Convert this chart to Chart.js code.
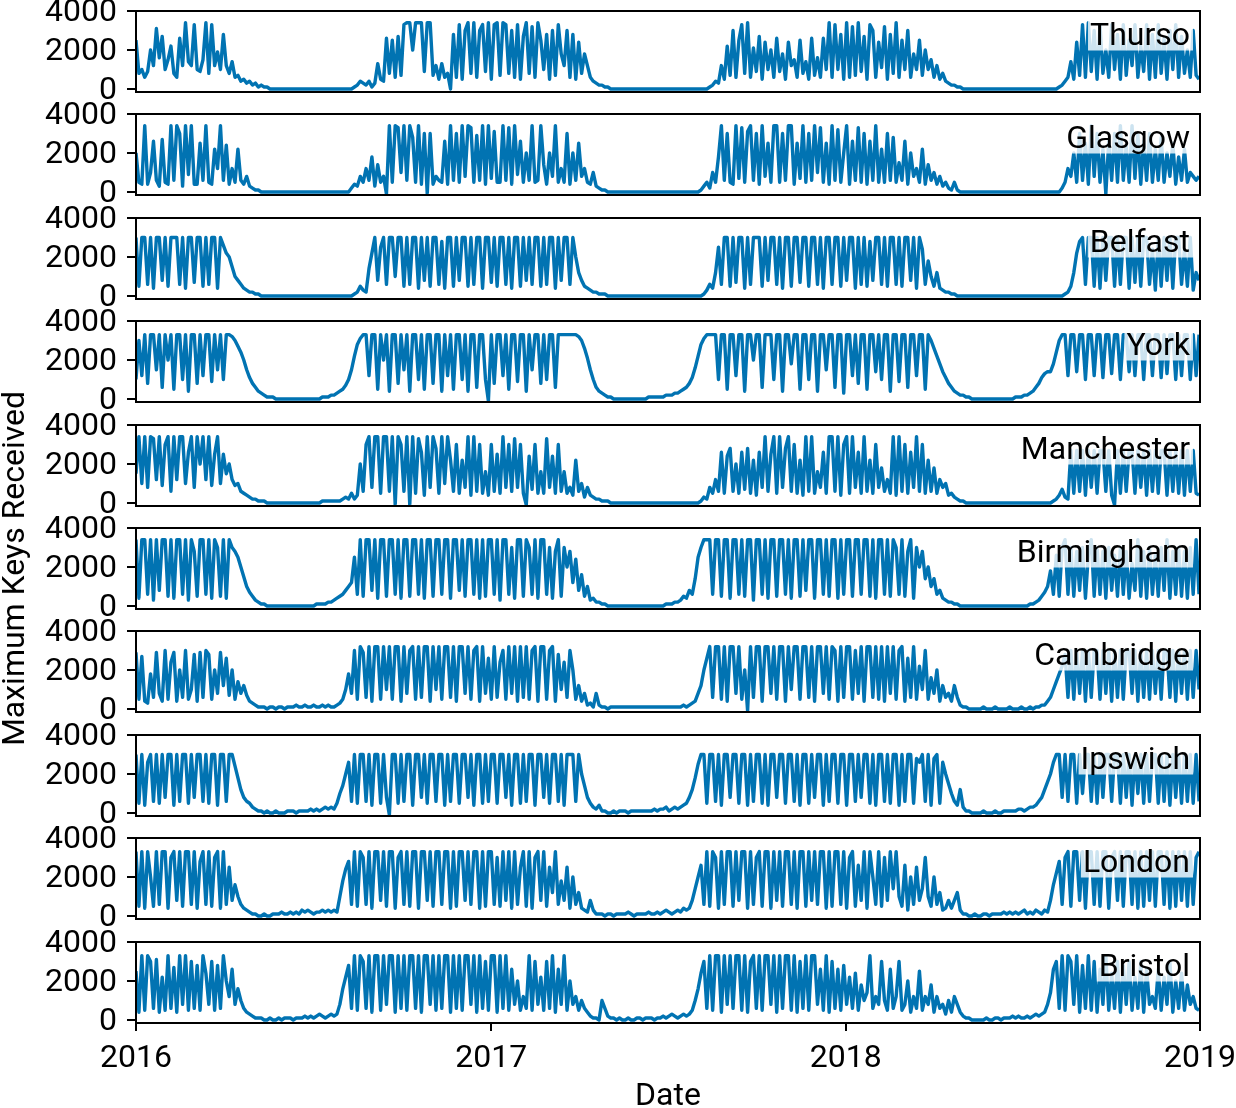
<!DOCTYPE html>
<html>
<head>
<meta charset="utf-8">
<title>Maximum keys received</title>
<script src="https://cdn.jsdelivr.net/npm/chart.js@4.4.0/dist/chart.umd.min.js"></script>
<style>
  html, body { margin: 0; padding: 0; background: #fff; }
  #figure { position: relative; width: 1236px; height: 1108px; overflow: hidden; }
  #figure canvas { position: absolute; left: 0; }
</style>
</head>
<body>
<div id="figure"></div>
<script>
// Maximum keys received, one reading every 3 days from 1 Jan 2016,
// values in hundreds of keys.
// Each row of ten is roughly one month.
const sampleStepDays = 3;
const keysPerUnit = 100;

const thurso = [
  25, 8, 10, 6, 9, 20, 12, 31, 16, 27,
  10, 15, 22, 8, 6, 26, 12, 34, 14, 12,
  33, 10, 9, 15, 34, 8, 33, 12, 19, 10,
  28, 12, 8, 14, 6, 7, 4, 5, 3, 4,
  2, 3, 1, 2, 1, 1, 0, 0, 0, 0,
  0, 0, 0, 0, 0, 0, 0, 0, 0, 0,
  0, 0, 0, 0, 0, 0, 0, 0, 0, 0,
  0, 0, 0, 0, 0, 1, 2, 4, 3, 2,
  4, 1, 3, 13, 5, 4, 26, 8, 25, 6,
  27, 7, 33, 34, 34, 20, 34, 34, 34, 9,
  34, 34, 7, 12, 5, 13, 6, 8, 0, 28,
  6, 33, 5, 30, 34, 8, 34, 6, 30, 33,
  9, 34, 5, 33, 34, 7, 34, 33, 8, 30,
  6, 33, 5, 27, 34, 8, 32, 6, 34, 25,
  10, 28, 5, 30, 7, 33, 18, 12, 30, 6,
  28, 5, 24, 8, 18, 12, 6, 4, 3, 2,
  2, 1, 1, 0, 0, 0, 0, 0, 0, 0,
  0, 0, 0, 0, 0, 0, 0, 0, 0, 0,
  0, 0, 0, 0, 0, 0, 0, 0, 0, 0,
  0, 0, 0, 0, 0, 0, 0, 1, 2, 4,
  3, 12, 5, 22, 7, 30, 6, 25, 33, 8,
  34, 6, 21, 9, 27, 5, 24, 10, 20, 6,
  26, 9, 18, 5, 24, 12, 15, 6, 25, 8,
  14, 5, 26, 7, 16, 6, 26, 10, 34, 6,
  33, 10, 28, 5, 34, 6, 32, 7, 34, 9,
  27, 5, 33, 30, 6, 24, 11, 32, 5, 28,
  8, 34, 6, 25, 10, 30, 6, 18, 10, 25,
  7, 20, 10, 15, 6, 12, 5, 8, 4, 3,
  2, 2, 1, 1, 0, 0, 0, 0, 0, 0,
  0, 0, 0, 0, 0, 0, 0, 0, 0, 0,
  0, 0, 0, 0, 0, 0, 0, 0, 0, 0,
  0, 0, 0, 0, 0, 0, 0, 1, 2, 4,
  6, 14, 5, 24, 7, 33, 6, 34, 9, 30,
  5, 33, 8, 20, 6, 33, 10, 28, 5, 33,
  7, 25, 12, 33, 6, 22, 9, 33, 5, 28,
  6, 33, 8, 26, 5, 30, 10, 33, 6, 27,
  8, 20, 6, 30, 7, 5
];

const glasgow = [
  20, 5, 4, 34, 4, 10, 26, 6, 3, 27,
  5, 4, 34, 6, 34, 30, 3, 34, 9, 34,
  4, 4, 25, 6, 34, 5, 4, 22, 12, 34,
  6, 24, 4, 12, 5, 22, 6, 4, 8, 3,
  2, 1, 1, 0, 0, 0, 0, 0, 0, 0,
  0, 0, 0, 0, 0, 0, 0, 0, 0, 0,
  0, 0, 0, 0, 0, 0, 0, 0, 0, 0,
  0, 0, 0, 0, 2, 4, 3, 8, 5, 12,
  6, 18, 3, 14, 5, 8, -1, 34, 5, 34,
  33, 10, 34, 6, 34, 28, 5, 34, 4, 30,
  -1, 30, 4, 8, 6, 5, 26, 4, 34, 6,
  30, 5, 34, 8, 34, 33, 5, 29, 6, 34,
  4, 34, 7, 31, 5, 5, 34, 6, 33, 4,
  34, 9, 26, 5, 20, 6, 34, 5, 6, 34,
  14, 4, 20, 8, 34, 5, 12, 5, 30, 4,
  20, 6, 25, 8, 12, 5, 4, 10, 3, 2,
  1, 1, 0, 0, 0, 0, 0, 0, 0, 0,
  0, 0, 0, 0, 0, 0, 0, 0, 0, 0,
  0, 0, 0, 0, 0, 0, 0, 0, 0, 0,
  0, 0, 0, 0, 1, 3, 5, 2, 10, 5,
  18, 34, 6, 30, 5, 4, 34, 7, 33, 5,
  31, 34, 6, 30, 4, 34, 8, 25, 5, 34,
  34, 5, 30, 6, 34, 34, 4, 25, 7, 34,
  5, 30, 6, 34, 10, 33, 5, 25, 4, 34,
  6, 32, 5, 20, 34, 4, 26, 6, 33, 5,
  30, 4, 26, 6, 34, 5, 22, 5, 30, 6,
  28, 5, 15, 6, 26, 4, 20, 8, 12, 5,
  22, 4, 14, 6, 10, 4, 8, 3, 5, 2,
  1, 5, 1, 0, 0, 0, 0, 0, 0, 0,
  0, 0, 0, 0, 0, 0, 0, 0, 0, 0,
  0, 0, 0, 0, 0, 0, 0, 0, 0, 0,
  0, 0, 0, 0, 0, 0, 0, 0, 2, 5,
  12, 8, 20, 5, 30, 6, 25, 4, 34, 8,
  30, 5, 22, -1, 26, 6, 30, 5, 34, 6,
  24, 5, 34, 7, 30, 4, 26, 6, 30, 5,
  22, 6, 28, 5, 20, 8, 25, 4, 18, 6,
  22, 5, 10, 8, 6, 8
];

const belfast = [
  30, 5, 30, 30, 6, 30, 4, 30, 30, 8,
  30, 5, 30, 30, 30, 6, 30, 4, 30, 30,
  7, 30, 30, 5, 30, 6, 30, 30, 4, 30,
  26, 22, 20, 15, 10, 8, 6, 4, 3, 2,
  2, 1, 1, 0, 0, 0, 0, 0, 0, 0,
  0, 0, 0, 0, 0, 0, 0, 0, 0, 0,
  0, 0, 0, 0, 0, 0, 0, 0, 0, 0,
  0, 0, 0, 0, 0, 1, 2, 5, 3, 2,
  14, 22, 30, 8, 25, 30, 6, 30, 30, 10,
  30, 30, 5, 30, 6, 30, 30, 4, 30, 8,
  30, 5, 30, 30, 6, 28, 4, 30, 30, 5,
  30, 8, 30, 30, 5, 30, 6, 30, 30, 4,
  30, 30, 7, 30, 5, 30, 30, 6, 30, 4,
  30, 30, 5, 30, 8, 30, 6, 30, 30, 5,
  30, 6, 30, 30, 4, 30, 8, 30, 30, 6,
  30, 20, 12, 8, 5, 4, 3, 2, 2, 1,
  1, 1, 0, 0, 0, 0, 0, 0, 0, 0,
  0, 0, 0, 0, 0, 0, 0, 0, 0, 0,
  0, 0, 0, 0, 0, 0, 0, 0, 0, 0,
  0, 0, 0, 0, 0, 1, 3, 6, 4, 12,
  25, 6, 30, 30, 5, 30, 7, 30, 30, 4,
  30, 6, 30, 30, 30, 5, 30, 8, 30, 30,
  6, 30, 4, 30, 30, 5, 30, 30, 7, 30,
  30, 5, 30, 30, 6, 30, 4, 30, 30, 6,
  30, 30, 5, 30, 8, 30, 30, 4, 30, 6,
  30, 5, 28, 8, 30, 30, 6, 30, 5, 30,
  30, 6, 30, 5, 30, 30, 8, 30, 4, 30,
  24, 6, 18, 10, 5, 12, 4, 3, 2, 2,
  1, 1, 0, 0, 0, 0, 0, 0, 0, 0,
  0, 0, 0, 0, 0, 0, 0, 0, 0, 0,
  0, 0, 0, 0, 0, 0, 0, 0, 0, 0,
  0, 0, 0, 0, 0, 0, 0, 0, 0, 1,
  2, 5, 12, 22, 28, 30, 6, 30, 30, 5,
  30, 4, 30, 8, 30, 30, 5, 30, 6, 30,
  30, 4, 30, 7, 30, 5, 30, 30, 6, 24,
  3, 30, 5, 30, 8, 30, 4, 30, 30, 6,
  24, 5, 30, 3, 12, 8
];

const york = [
  10, 30, 12, 33, 8, 33, 33, 15, 33, 6,
  33, 20, 33, 5, 33, 33, 10, 33, 4, 33,
  33, 8, 33, 12, 33, 33, 9, 33, 15, 33,
  10, 33, 33, 32, 30, 27, 24, 20, 15, 11,
  8, 6, 4, 3, 2, 1, 1, 1, 0, 0,
  0, 0, 0, 0, 0, 0, 0, 0, 0, 0,
  0, 0, 0, 0, 1, 1, 1, 2, 2, 3,
  4, 5, 7, 10, 15, 22, 28, 31, 33, 33,
  12, 33, 33, 5, 33, 20, 33, 4, 33, 33,
  8, 33, 15, 33, 4, 33, 33, 10, 33, 5,
  33, 33, 8, 33, 33, 4, 33, 12, 33, 5,
  33, 33, 10, 33, 4, 33, 33, 6, 33, 33,
  10, -1, 33, 8, 33, 33, 12, 33, 5, 33,
  33, 9, 33, 33, 4, 33, 15, 33, 33, 8,
  33, 10, 33, 33, 6, 33, 33, 33, 33, 33,
  33, 33, 32, 30, 26, 21, 15, 10, 6, 4,
  3, 2, 1, 1, 0, 0, 0, 0, 0, 0,
  0, 0, 0, 0, 0, 0, 1, 1, 1, 1,
  1, 1, 2, 2, 2, 3, 3, 4, 5, 6,
  8, 11, 16, 22, 28, 31, 33, 33, 33, 33,
  10, 33, 33, 5, 33, 33, 12, 33, 33, 4,
  33, 33, 20, 33, 33, 6, 33, 33, 33, 10,
  33, 33, 4, 33, 33, 18, 33, 33, 5, 33,
  33, 10, 33, 33, 4, 33, 33, 15, 33, 33,
  6, 33, 33, 3, 33, 33, 12, 33, 8, 33,
  33, 5, 33, 33, 14, 33, 10, 33, 33, 4,
  33, 33, 9, 33, 33, 6, 33, 33, 12, 33,
  33, 5, 33, 30, 26, 22, 18, 14, 11, 8,
  6, 4, 3, 2, 2, 1, 1, 0, 0, 0,
  0, 0, 0, 0, 0, 0, 0, 0, 0, 0,
  0, 0, 1, 1, 1, 2, 2, 3, 4, 6,
  8, 11, 13, 14, 14, 18, 24, 30, 33, 33,
  12, 33, 33, 14, 33, 33, 10, 33, 33, 12,
  33, 33, 11, 33, 33, 13, 33, 33, 10, 33,
  33, 14, 33, 12, 33, 33, 10, 33, 33, 12,
  33, 33, 11, 33, 13, 33, 33, 10, 33, 12,
  33, 33, 10, 33, 12, 33
];

const manchester = [
  15, 34, 10, 34, 8, 34, 33, 12, 34, 9,
  30, 34, 6, 34, 12, 34, 34, 10, 26, 34,
  8, 34, 20, 34, 12, 34, 9, 25, 34, 10,
  25, 15, 20, 12, 9, 10, 6, 5, 4, 3,
  2, 2, 1, 1, 1, 0, 0, 0, 0, 0,
  0, 0, 0, 0, 0, 0, 0, 0, 0, 0,
  0, 0, 0, 0, 1, 1, 1, 1, 1, 1,
  1, 2, 3, 2, 5, 2, 4, 20, 6, 30,
  34, 8, 34, 34, 5, 34, 34, 6, 34, -1,
  34, 30, 6, 34, -1, 34, 5, 33, 26, 4,
  34, 8, 34, 28, 5, 34, 10, 34, 22, 6,
  30, 5, 22, 8, 34, 4, 34, 6, 30, 5,
  16, 4, 30, 6, 25, 5, 34, 8, 30, 6,
  33, 8, 30, 5, -1, 24, 7, 30, 5, 16,
  5, 33, 8, 24, 5, 30, 6, 16, 5, 8,
  4, 22, 6, 10, 3, 8, 4, 3, 2, 2,
  1, 1, 1, 0, 0, 0, 0, 0, 0, 0,
  0, 0, 0, 0, 0, 0, 0, 0, 0, 0,
  0, 0, 0, 0, 0, 0, 0, 0, 0, 0,
  0, 0, 0, 0, 1, 3, 2, 8, 5, 12,
  6, 26, 5, 24, 28, 6, 20, 5, 26, 7,
  28, 5, 22, 4, 26, 8, 34, 6, 25, 34,
  5, 34, 8, 28, 34, 6, 30, 5, 22, 4,
  34, 6, 34, 5, 16, 8, 26, 5, 34, 34,
  6, 34, 4, 30, 34, 5, 34, 8, 26, 5,
  34, 6, 22, 5, 30, 8, 18, 6, 12, 5,
  34, 4, 34, 6, 30, 5, 26, 8, 34, 6,
  30, 5, 22, 6, 18, 5, 12, 8, 10, 4,
  5, 3, 2, 1, 1, 0, 0, 0, 0, 0,
  0, 0, 0, 0, 0, 0, 0, 0, 0, 0,
  0, 0, 0, 0, 0, 0, 0, 0, 0, 0,
  0, 0, 0, 0, 0, 1, 2, 4, 7, 3,
  2, 27, 5, 27, 6, 27, 4, 27, 8, 27,
  5, 27, 27, 6, 27, 4, -1, 27, 5, 27,
  6, 27, 27, 5, 27, 8, 27, 4, 27, 6,
  27, 5, 27, 27, 4, 27, 6, 27, 5, 27,
  4, 27, 6, 27, 5, 4
];

const birmingham = [
  34, 4, 34, 34, 6, 34, 3, 34, 8, 34,
  34, 5, 34, 4, 34, 34, 6, 34, 3, 34,
  28, 5, 34, 34, 6, 34, 4, 34, 30, 5,
  34, 4, 34, 30, 28, 25, 20, 15, 10, 7,
  5, 3, 2, 1, 1, 0, 0, 0, 0, 0,
  0, 0, 0, 0, 0, 0, 0, 0, 0, 0,
  0, 0, 1, 1, 1, 1, 2, 2, 3, 4,
  5, 6, 8, 10, 12, 25, 6, 34, 5, 34,
  34, 8, 34, 4, 34, 34, 5, 34, 34, 6,
  34, 4, 34, 34, 5, 34, 34, 6, 34, 4,
  34, 34, 5, 34, 34, 6, 34, 34, 4, 34,
  34, 8, 34, 5, 34, 34, 6, 34, 4, 34,
  5, 34, 34, 6, 34, 3, 34, 34, 6, 30,
  4, 34, 34, 5, 34, 30, 6, 34, 4, 34,
  34, 6, 30, 4, 28, 34, 5, 30, 20, 28,
  12, 24, 8, 16, 5, 10, 3, 4, 2, 2,
  1, 1, 0, 0, 0, 0, 0, 0, 0, 0,
  0, 0, 0, 0, 0, 0, 0, 0, 0, 0,
  0, 0, 1, 1, 1, 2, 2, 3, 5, 4,
  8, 6, 14, 25, 30, 34, 34, 34, 6, 34,
  34, 5, 34, 34, 4, 34, 34, 6, 34, 5,
  34, 34, 3, 34, 34, 6, 34, 4, 34, 34,
  5, 34, 34, 6, 34, 4, 34, 34, 5, 34,
  8, 34, 34, 4, 34, 34, 6, 34, 5, 34,
  34, 4, 34, 6, 34, 34, 5, 34, 34, 6,
  34, 34, 5, 34, 4, 34, 34, 6, 34, 5,
  34, 30, 6, 34, 5, 28, 34, 4, 30, 20,
  28, 14, 20, 10, 14, 6, 8, 4, 3, 2,
  2, 1, 1, 0, 0, 0, 0, 0, 0, 0,
  0, 0, 0, 0, 0, 0, 0, 0, 0, 0,
  0, 0, 0, 0, 0, 0, 0, 1, 1, 2,
  3, 5, 7, 10, 18, 6, 26, 5, 30, 34,
  6, 30, 5, 28, 8, 30, 4, 26, 34, 5,
  30, 6, 28, 4, 30, 8, 26, 5, 30, 6,
  28, 4, 22, 8, 34, 5, 28, 4, 30, 6,
  26, 5, 30, 8, 34, 4, 28, 6, 30, 5,
  28, 4, 30, 6, 34, 6
];

const cambridge = [
  29, 5, 27, 4, 3, 18, 6, 29, 8, 4,
  30, 5, 24, 29, 4, 20, 6, 30, 5, 10,
  28, 4, 29, 6, 30, 28, 5, 20, 8, 29,
  12, 26, 7, 20, 5, 14, 8, 12, 7, 4,
  3, 2, 1, 1, 1, 0, 1, 1, 0, 1,
  1, 0, 1, 1, 1, 2, 1, 1, 2, 1,
  1, 2, 1, 1, 2, 1, 2, 1, 1, 2,
  3, 5, 10, 18, 8, 30, 5, 32, 29, 6,
  32, 4, 32, 32, 5, 32, 10, 32, 5, 32,
  32, 4, 32, 8, 30, 32, 5, 32, 6, 32,
  32, 4, 32, 10, 32, 5, 32, 32, 6, 32,
  4, 32, 32, 8, 32, 5, 30, 32, 4, 32,
  8, 26, 5, 32, 6, 24, 30, 5, 32, 8,
  32, 4, 32, 6, 32, 5, 30, 32, 4, 32,
  32, 5, 30, 32, 4, 28, 10, 24, 6, 30,
  20, 5, 12, 4, 8, 2, 3, 1, 8, 2,
  1, 1, 0, 1, 1, 1, 1, 1, 1, 1,
  1, 1, 1, 1, 1, 1, 1, 1, 1, 1,
  1, 1, 1, 1, 1, 1, 1, 1, 2, 1,
  2, 3, 4, 8, 12, 20, 26, 32, 6, 32,
  32, 5, 32, 4, 32, 32, 8, 32, 5, 20,
  -1, 32, 6, 32, 32, 4, 32, 32, 8, 32,
  5, 32, 32, 4, 32, 10, 32, 32, 5, 32,
  32, 6, 32, 4, 32, 32, 8, 32, 5, 32,
  30, 4, 32, 6, 32, 32, 5, 30, 8, 32,
  4, 32, 32, 6, 32, 5, 32, 4, 32, 8,
  32, 5, 30, 32, 4, 26, 6, 32, 5, 22,
  10, 30, 5, 16, 8, 20, 4, 12, 6, 8,
  4, 12, 6, 2, 1, 1, 0, 0, 0, 0,
  0, 1, 0, 0, 0, 1, 0, 0, 0, 0,
  1, 0, 0, 0, 1, 0, 0, 1, 0, 1,
  1, 2, 2, 4, 6, 10, 14, 18, 22, 28,
  6, 30, 5, 30, 8, 30, 4, 30, 6, 30,
  30, 5, 30, 8, 30, 4, 30, 6, 30, 5,
  30, 30, 8, 30, 4, 30, 6, 30, 5, 30,
  8, 30, 5, 30, 30, 6, 30, 4, 30, 8,
  30, 5, 30, 6, 30, 10
];

const ipswich = [
  30, 5, 30, 4, 26, 30, 6, 30, 5, 30,
  8, 30, 30, 4, 30, 6, 30, 30, 5, 30,
  8, 30, 30, 6, 30, 5, 30, 30, 4, 30,
  30, 6, 30, 30, 24, 18, 12, 8, 6, 5,
  3, 2, 1, 1, 0, 1, 0, 0, 1, 0,
  0, 0, 1, 1, 1, 0, 1, 1, 1, 1,
  2, 1, 2, 1, 2, 3, 2, 3, 2, 5,
  10, 14, 20, 26, 6, 30, 5, 30, 30, 6,
  30, 4, 30, 30, 5, 30, 8, -1, 30, 30,
  5, 30, 6, 30, 30, 4, 30, 30, 8, 30,
  5, 30, 30, 6, 30, 30, 4, 30, 6, 30,
  30, 5, 30, 30, 8, 30, 4, 30, 30, 5,
  30, 6, 30, 30, 5, 30, 30, 8, 30, 4,
  30, 30, 5, 30, 6, 30, 30, 4, 30, 30,
  8, 30, 5, 30, 30, 6, 30, 4, 30, 30,
  30, 6, 30, 20, 14, 8, 5, 3, 2, 4,
  1, 1, 0, 0, 1, 0, 1, 1, 1, 0,
  1, 1, 1, 1, 1, 1, 1, 1, 2, 1,
  2, 2, 3, 1, 2, 3, 2, 3, 4, 5,
  8, 12, 18, 25, 30, 30, 5, 30, 30, 6,
  30, 4, 30, 30, 8, 30, 30, 5, 30, 30,
  4, 30, 6, 30, 30, 5, 30, 4, 30, 30,
  8, 30, 30, 5, 30, 30, 6, 30, 4, 30,
  30, 5, 30, 8, 30, 30, 4, 30, 6, 30,
  30, 5, 30, 30, 4, 30, 30, 6, 30, 8,
  30, 30, 5, 30, 4, 30, 30, 6, 30, 5,
  30, 30, 4, 30, 6, 30, 30, 5, 28, 26,
  30, 6, 30, 4, 28, 30, 5, 26, 20, 15,
  10, 6, 4, 12, 3, 1, 1, 0, 0, 0,
  0, 1, 0, 0, 0, 1, 0, 0, 1, 1,
  1, 1, 1, 2, 2, 1, 2, 3, 3, 4,
  6, 8, 12, 16, 20, 26, 30, 30, 8, 30,
  6, 30, 30, 5, 30, 10, 30, 30, 6, 30,
  5, 30, 8, 30, 30, 6, 30, 30, 5, 30,
  8, 30, 4, 30, 10, 30, 5, 30, 6, 30,
  30, 5, 30, 6, 30, 4, 30, 8, 30, 5,
  30, 6, 30, 5, 30, 6
];

const london = [
  33, 5, 33, 4, 33, 20, 5, 33, 6, 33,
  33, 4, 30, 33, 8, 33, 5, 33, 33, 6,
  33, 4, 28, 33, 6, 33, 5, 30, 33, 4,
  33, 6, 25, 8, 16, 10, 6, 4, 3, 2,
  1, 1, 0, 0, 1, 0, 0, 1, 1, 1,
  2, 1, 1, 2, 1, 2, 1, 3, 2, 3,
  2, 1, 2, 2, 3, 2, 3, 2, 3, 2,
  10, 18, 24, 28, 6, 33, 5, 33, 30, 6,
  33, 4, 33, 33, 8, 33, 5, 33, 33, 4,
  30, 33, 6, 33, 5, 33, 33, 4, 33, 33,
  8, 33, 5, 33, 33, 6, 33, 33, 4, 33,
  5, 33, 33, 8, 33, 6, 33, 33, 4, 33,
  5, 33, 33, 6, 30, 5, 33, 8, 33, 4,
  33, 6, 25, 33, 5, 33, 4, 30, 33, 8,
  33, 5, 25, 12, 33, 6, 18, 8, 25, 4,
  20, 6, 12, 4, 3, 2, 8, 3, 1, 1,
  1, 0, 1, 1, 0, 1, 1, 1, 1, 2,
  1, 0, 1, 1, 1, 1, 2, 1, 1, 2,
  1, 2, 3, 2, 1, 2, 3, 2, 4, 3,
  4, 8, 14, 20, 26, 6, 33, 5, 33, 30,
  4, 33, 6, 33, 33, 5, 33, 8, 33, 33,
  4, 33, 6, 30, 33, 5, 33, 33, 4, 33,
  8, 33, 5, 33, 33, 6, 33, 4, 33, 33,
  5, 33, 8, 33, 6, 33, 33, 4, 33, 5,
  33, 33, 6, 33, 4, 30, 33, 5, 26, 8,
  33, 4, 33, 20, 6, 33, 5, 30, 8, 33,
  14, 33, 10, 5, 26, 3, 20, 6, 25, 8,
  14, 30, 10, 5, 20, 6, 12, 3, 4, 8,
  4, 8, 12, 3, 1, 1, 0, 0, 1, 0,
  0, 1, 1, 0, 1, 1, 1, 1, 2, 1,
  2, 1, 2, 1, 2, 3, 1, 2, 1, 3,
  2, 1, 3, 2, 8, 16, 22, 28, 6, 30,
  33, 5, 33, 33, 8, 33, 4, 33, 33, 6,
  33, 5, 33, 33, 4, 30, 33, 8, 33, 5,
  33, 33, 6, 33, 4, 33, 5, 33, 8, 33,
  5, 33, 33, 6, 33, 4, 33, 5, 33, 8,
  33, 5, 33, 6, 30, 33
];

const bristol = [
  25, 4, 33, 5, 33, 30, 6, 31, 4, 22,
  5, 33, 6, 27, 4, 33, 8, 33, 5, 30,
  6, 28, 5, 33, 24, 8, 30, 5, 28, 6,
  33, 20, 12, 26, 8, 16, 10, 6, 4, 3,
  2, 1, 1, 1, 0, 0, 1, 0, 0, 1,
  0, 1, 1, 1, 0, 1, 1, 1, 2, 1,
  2, 1, 2, 3, 2, 1, 2, 3, 2, 3,
  8, 16, 22, 28, 6, 33, 5, 33, 30, 6,
  33, 4, 33, 33, 5, 33, 8, 33, 33, 4,
  33, 6, 33, 5, 33, 33, 6, 33, 4, 33,
  33, 8, 33, 5, 33, 6, 33, 33, 4, 33,
  6, 33, 5, 33, 33, 8, 33, 4, 33, 6,
  30, 5, 33, 33, 4, 33, 6, 33, 5, 26,
  8, 20, 5, 12, 6, 33, 5, 30, 8, 22,
  5, 30, 6, 33, 4, 26, 8, 33, 5, 20,
  8, 12, 5, 10, 6, 4, 2, 1, 1, 0,
  10, 6, 2, 1, 1, 0, 1, 0, 0, 1,
  0, 0, 1, 1, 0, 1, 1, 1, 0, 1,
  1, 2, 1, 2, 3, 2, 1, 2, 3, 2,
  3, 5, 10, 16, 24, 30, 6, 33, 5, 33,
  33, 4, 33, 8, 33, 6, 33, 33, 5, 33,
  4, 30, 33, 6, 33, 5, 33, 33, 8, 33,
  4, 33, 6, 33, 33, 5, 33, 4, 30, 6,
  33, 5, 33, 33, 8, 26, 5, 33, 4, 30,
  6, 26, 5, 28, 8, 22, 6, 24, 5, 18,
  10, 14, 33, 6, 12, 8, 30, 10, 5, 26,
  6, 12, 30, 5, 8, 20, 4, 12, 6, 25,
  5, 12, 8, 18, 4, 12, 6, 8, 3, 10,
  4, 12, 8, 4, 2, 1, 1, 0, 0, 0,
  0, 0, 1, 0, 0, 1, 1, 0, 1, 1,
  1, 2, 1, 2, 1, 1, 2, 1, 2, 3,
  2, 3, 4, 8, 14, 26, 30, 6, 33, 5,
  33, 30, 8, 33, 4, 28, 6, 33, 5, 30,
  4, 26, 8, 33, 5, 24, 6, 30, 4, 28,
  8, 30, 5, 22, 6, 30, 4, 26, 8, 12,
  6, 26, 5, 22, 8, 30, 4, 20, 6, 24,
  5, 18, 8, 12, 6, 5
];

const cities = ['Thurso', 'Glasgow', 'Belfast', 'York', 'Manchester',
                'Birmingham', 'Cambridge', 'Ipswich', 'London', 'Bristol'];
const cityValues = [thurso, glasgow, belfast, york, manchester,
                    birmingham, cambridge, ipswich, london, bristol];

const yearLabels = ['2016', '2017', '2018', '2019'];
const yearStartDays = [0, 366, 731, 1096];
const yTickValues = [0, 2000, 4000];

// figure layout (pixels)
const FIG_W = 1236;
const FIG_H = 1108;
const AXIS_LEFT = 136;
const AXIS_RIGHT = 1200;
const PAD_RIGHT = 36;
const LAST_PAD_RIGHT = 45;   // Chart.js reserves half of "2019" plus tick padding
const PAD_V = 32;
const PANEL_TOP0 = 11;
const PANEL_PITCH = 103.4;
const PANEL_H = 81;
const LINE_COLOR = '#0173b2';
const Y_TITLE_PANEL = 5;

Chart.defaults.font.family = 'Roboto';
Chart.defaults.font.size = 32;
Chart.defaults.color = '#000';

// white label box with the city name + black frame round each panel
const panelDecor = {
  id: 'panelDecor',
  afterDatasetsDraw(chart, args, opts) {
    const { ctx, chartArea: a } = chart;
    ctx.save();
    ctx.font = '32px Roboto';
    const w = ctx.measureText(opts.label).width;
    const right = a.right - 10;
    const base = a.top + 33.5;
    ctx.fillStyle = 'rgba(255,255,255,0.8)';
    ctx.fillRect(right - w - 2, base - 29, w + 5, 35);
    ctx.fillStyle = '#000';
    ctx.textAlign = 'right';
    ctx.textBaseline = 'alphabetic';
    ctx.fillText(opts.label, right, base);
    ctx.lineWidth = 2;
    ctx.strokeStyle = '#000';
    ctx.strokeRect(a.left, a.top, a.right - a.left, a.bottom - a.top);
    ctx.restore();
  }
};

function buildPanel(i) {
  const isLast = i === cities.length - 1;
  const hasYTitle = i === Y_TITLE_PANEL;
  const top = Math.round(PANEL_TOP0 + i * PANEL_PITCH);
  const padTop = hasYTitle ? 150 : PAD_V;
  const xAxisHeight = isLast ? FIG_H - (top + PANEL_H) : 0;
  const padBottom = isLast ? 0 : (hasYTitle ? 160 : PAD_V);
  const height = padTop + PANEL_H + padBottom + xAxisHeight;
  const padRight = isLast ? LAST_PAD_RIGHT : PAD_RIGHT;

  const canvas = document.createElement('canvas');
  canvas.width = AXIS_RIGHT + padRight;
  canvas.height = height;
  canvas.style.top = (top - padTop) + 'px';
  document.getElementById('figure').appendChild(canvas);

  const points = cityValues[i].map((v, k) => ({ x: k * sampleStepDays, y: v * keysPerUnit }));

  new Chart(canvas.getContext('2d'), {
    type: 'line',
    data: {
      datasets: [{
        label: cities[i],
        data: points,
        borderColor: LINE_COLOR,
        borderWidth: 3.4,
        borderJoinStyle: 'round',
        pointRadius: 0,
        tension: 0,
        fill: false
      }]
    },
    options: {
      responsive: false,
      animation: false,
      events: [],
      layout: { padding: { top: padTop, bottom: padBottom, left: 0, right: padRight } },
      plugins: {
        legend: { display: false },
        tooltip: { enabled: false },
        panelDecor: { label: cities[i] }
      },
      scales: {
        x: {
          type: 'linear',
          min: 0,
          max: yearStartDays[yearStartDays.length - 1],
          display: isLast,
          afterBuildTicks: (s) => { s.ticks = yearStartDays.map(v => ({ value: v })); },
          afterFit: (s) => { s.height = xAxisHeight; },
          border: { display: false },
          grid: { drawOnChartArea: false, drawTicks: true, tickLength: 8, color: '#000', lineWidth: 2 },
          ticks: {
            autoSkip: false,
            maxRotation: 0,
            padding: 9,
            callback: (v) => yearLabels[yearStartDays.indexOf(v)]
          },
          title: { display: true, text: 'Date', padding: { top: 0, bottom: -8 } }
        },
        y: {
          min: -155,
          max: 4000,
          afterBuildTicks: (s) => { s.ticks = yTickValues.map(v => ({ value: v })); },
          afterFit: (s) => { s.width = AXIS_LEFT; },
          border: { display: false },
          grid: { drawOnChartArea: false, drawTicks: true, tickLength: 9, color: '#000', lineWidth: 2 },
          ticks: { autoSkip: false, padding: 10, labelOffset: 2, callback: (v) => String(v) },
          title: { display: hasYTitle, text: 'Maximum Keys Received', padding: { top: -3, bottom: 0 } }
        }
      }
    },
    plugins: [panelDecor]
  });
}

cities.forEach((name, i) => buildPanel(i));
</script>
</body>
</html>
